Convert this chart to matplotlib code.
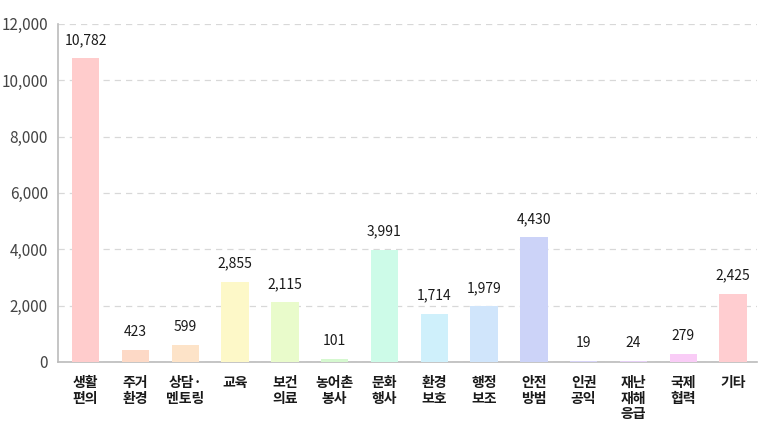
import numpy as np
import matplotlib.pyplot as plt

plt.rcParams['font.family'] = ['Noto Sans CJK KR', 'DejaVu Sans']

# Data
categories = ['생활\n편의', '주거\n환경', '상담·\n멘토링', '교육', '보건\n의료', '농어촌\n봉사', '문화\n행사',
              '환경\n보호', '행정\n보조', '안전\n방범', '인권\n공익', '재난\n재해\n응급', '국제\n협력', '기타']
values = [10782, 423, 599, 2855, 2115, 101, 3991, 1714, 1979, 4430, 19, 24, 279, 2425]
colors = ['#ffcccc', '#fdd9c6', '#fde3c8', '#fdf8c8', '#e9fbcb', '#d5f8cf', '#cdfbe8',
          '#cff0fb', '#d0e5fb', '#ccd3f8', '#d6d3f6', '#e6d0f6', '#f9ccf6', '#ffcdd0']
yticks = [0, 2000, 4000, 6000, 8000, 10000, 12000]

fig = plt.figure(figsize=(7.7, 4.33), dpi=100)
ax = fig.add_axes([0.075, 0.164, 0.908, 0.781])

x = np.arange(len(categories))
ax.bar(x, values, width=0.55, color=colors, zorder=3)

for xi, v in zip(x, values):
    ax.annotate(f'{v:,}', (xi, v), xytext=(0, 8), textcoords='offset points',
                ha='center', va='bottom', fontsize=10, fontweight='medium', color='#1a1a1a')

ax.set_xlim(-0.56, len(categories) - 0.52)
ax.set_ylim(0, 12000)
ax.set_yticks(yticks)
ax.set_yticklabels([f'{t:,}' for t in yticks], fontsize=11, color='#444444')
ax.set_xticks(x)
ax.set_xticklabels(categories, fontsize=10, fontweight='bold', color='#1a1a1a', linespacing=1.15)
ax.tick_params(axis='both', length=0)
ax.tick_params(axis='x', pad=10)
ax.tick_params(axis='y', pad=7)

ax.grid(axis='y', linestyle=(0, (5, 4)), color='#d8d8d8', linewidth=0.9, zorder=0)
for s in ['top', 'right']:
    ax.spines[s].set_visible(False)
ax.spines['left'].set_color('#bbbbbb')
ax.spines['bottom'].set_color('#bbbbbb')
ax.spines['left'].set_linewidth(1.2)
ax.spines['bottom'].set_linewidth(1.2)

fig.savefig('out.png', dpi=100)
